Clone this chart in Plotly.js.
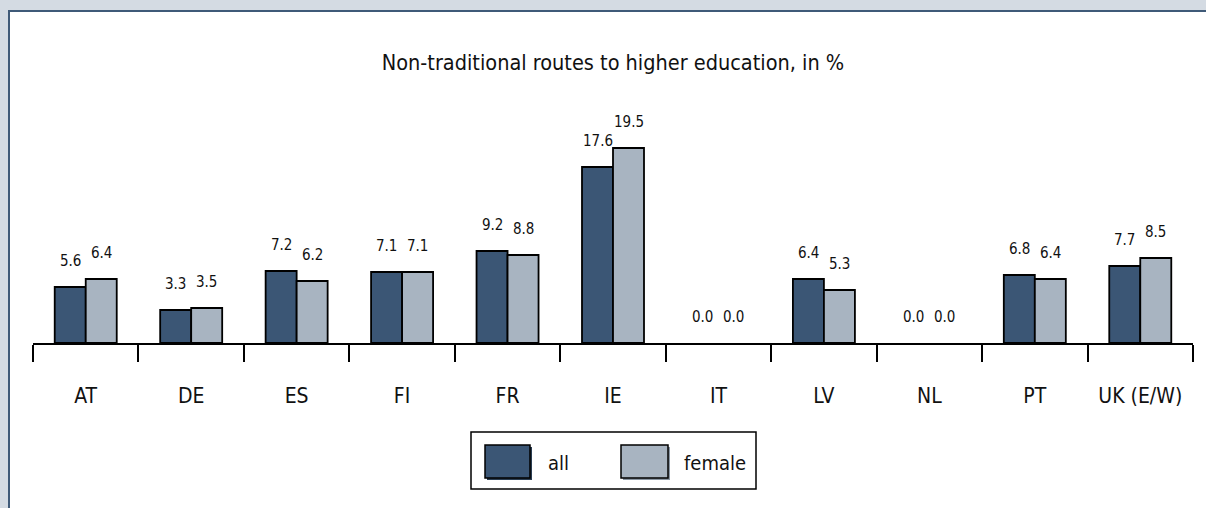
<!DOCTYPE html>
<html>
<head>
<meta charset="utf-8">
<script src="https://cdn.plot.ly/plotly-3.0.1.min.js"></script>
<style>
  html, body { margin: 0; padding: 0; background: #d4dbe3; width: 1206px; height: 508px; overflow: hidden; }
  #frame { position: absolute; left: 8px; top: 10px; width: 1198px; height: 498px; border-left: 2px solid #3f5a78; border-top: 2px solid #3f5a78; background: #fff; }
  #chart { width: 1196px; height: 496px; }
</style>
</head>
<body>
<div id="frame"><div id="chart"></div></div>
<script>
const categories = ["AT", "DE", "ES", "FI", "FR", "IE", "IT", "LV", "NL", "PT", "UK (E/W)"];
const allValues = [5.6, 3.3, 7.2, 7.1, 9.2, 17.6, 0.0, 6.4, 0.0, 6.8, 7.7];
const femaleValues = [6.4, 3.5, 6.2, 7.1, 8.8, 19.5, 0.0, 5.3, 0.0, 6.4, 8.5];
const seriesNames = ["all", "female"];
const titleText = "Non-traditional routes to higher education, in %";

const FONT = "'Liberation Sans Narrow', 'DejaVu Sans Condensed', Arial, sans-serif";
const darkColor = "#3b5675";
const lightColor = "#a8b4c1";
const edgeWidths = vals => vals.map(v => (v === 0 ? 0 : 1.8));

const traces = [
  { type: "bar", name: seriesNames[0], x: categories, y: allValues,
    marker: { color: darkColor, line: { color: "#000", width: edgeWidths(allValues) } }, showlegend: false, hoverinfo: "x+y" },
  { type: "bar", name: seriesNames[1], x: categories, y: femaleValues,
    marker: { color: lightColor, line: { color: "#000", width: edgeWidths(femaleValues) } }, showlegend: false, hoverinfo: "x+y" }
];

const annotations = [];
const barShift = 15.5;
categories.forEach((c, i) => {
  annotations.push({ x: c, y: allValues[i], xref: "x", yref: "y", text: allValues[i].toFixed(1),
    showarrow: false, xshift: -barShift, yshift: 26, yanchor: "middle",
    font: { family: FONT, size: 15, color: "#111" } });
  annotations.push({ x: c, y: femaleValues[i], xref: "x", yref: "y", text: femaleValues[i].toFixed(1),
    showarrow: false, xshift: barShift, yshift: 26, yanchor: "middle",
    font: { family: FONT, size: 15, color: "#111" } });
});

// custom legend (pixel positions converted to paper coordinates)
const L = 23, PW = 1160, AX = 331, PH = 220;
const px = v => (v - L) / PW;
const py = v => (AX - v) / PH;
annotations.push({ xref: "paper", yref: "paper", x: px(536), y: py(451), xanchor: "left", yanchor: "middle",
  text: seriesNames[0], showarrow: false, font: { family: FONT, size: 20, color: "#111" } });
annotations.push({ xref: "paper", yref: "paper", x: px(672), y: py(451), xanchor: "left", yanchor: "middle",
  text: seriesNames[1], showarrow: false, font: { family: FONT, size: 20, color: "#111" } });

const shapes = [
  { type: "rect", xref: "paper", yref: "paper", x0: px(461), x1: px(746), y0: py(477), y1: py(420),
    line: { color: "#000", width: 1.5 }, fillcolor: "rgba(0,0,0,0)" },
  { type: "rect", xref: "paper", yref: "paper", x0: px(477), x1: px(522), y0: py(468), y1: py(435),
    line: { width: 0 }, fillcolor: "#2a3d52" },
  { type: "rect", xref: "paper", yref: "paper", x0: px(475), x1: px(520), y0: py(466), y1: py(433),
    line: { color: "#000", width: 1.5 }, fillcolor: darkColor },
  { type: "rect", xref: "paper", yref: "paper", x0: px(613), x1: px(660), y0: py(468), y1: py(435),
    line: { width: 0 }, fillcolor: "#8a96a3" },
  { type: "rect", xref: "paper", yref: "paper", x0: px(611), x1: px(658), y0: py(466), y1: py(433),
    line: { color: "#000", width: 1.5 }, fillcolor: lightColor }
];

const layout = {
  width: 1196, height: 496,
  margin: { l: 23, r: 13, t: 111, b: 165, pad: 0 },
  paper_bgcolor: "#fff", plot_bgcolor: "#fff",
  title: { text: titleText, x: 0.5, xref: "paper", xanchor: "center", y: 1 - 50 / 496, yref: "container", yanchor: "middle",
    font: { family: FONT, size: 21.5, color: "#111" } },
  barmode: "group", bargap: 0.412, bargroupgap: 0,
  xaxis: { type: "category", range: [-0.5, 10.5], tickson: "boundaries", ticks: "outside", ticklen: 17, tickwidth: 2,
    tickcolor: "#000", showline: true, linecolor: "#000", linewidth: 1.5, showgrid: false, zeroline: false,
    ticklabelstandoff: 33, tickfont: { family: FONT, size: 21, color: "#111" }, fixedrange: true },
  yaxis: { range: [0, 22], visible: false, showgrid: false, zeroline: false, fixedrange: true },
  annotations: annotations,
  shapes: shapes,
  showlegend: false,
  font: { family: FONT }
};

Plotly.newPlot("chart", traces, layout, { displayModeBar: false, staticPlot: true });
</script>
</body>
</html>
